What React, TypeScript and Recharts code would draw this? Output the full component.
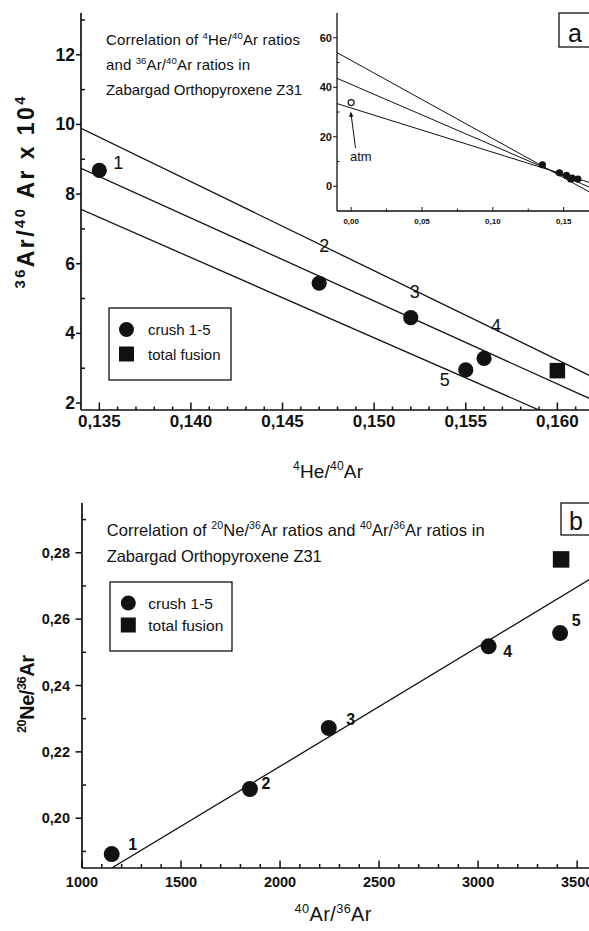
import React from 'react';
import { ComposedChart, Scatter, XAxis, YAxis, CartesianGrid } from 'recharts';

const FONT = '"Liberation Sans", Arial, Helvetica, sans-serif';
const INK = '#111';

// ---------------- Panel a : 36Ar/40Ar (x10^4) vs 4He/40Ar ----------------
const pointLabels = ['1', '2', '3', '4', '5'];
const aCrushX = [0.135, 0.147, 0.152, 0.156, 0.155];
const aCrushY = [8.68, 5.44, 4.45, 3.28, 2.95];
const aFusionX = [0.16];
const aFusionY = [2.93];
const aFitX = [0.134, 0.162];
const aFit1Y = [9.89, 2.73];
const aFit2Y = [8.74, 2.07];
const aFit3X = [0.134, 0.159];
const aFit3Y = [7.56, 1.8];
const aXDomain = [0.134, 0.162];
const aYDomain = [1.8, 13.2];
const aXMajor = [0.135, 0.14, 0.145, 0.15, 0.155, 0.16];
const aXMajorLabels = ['0,135', '0,140', '0,145', '0,150', '0,155', '0,160'];
const aXMinor = [0.136, 0.137, 0.138, 0.139, 0.141, 0.142, 0.143, 0.144, 0.146, 0.147, 0.148, 0.149, 0.151, 0.152, 0.153, 0.154, 0.156, 0.157, 0.158, 0.159, 0.161];
const aYMajor = [2, 4, 6, 8, 10, 12];
const aYMajorLabels = ['2', '4', '6', '8', '10', '12'];
const aYMinor = [3, 5, 7, 9, 11, 13];

// ---------------- Inset of panel a ----------------
const insetAtmX = [0];
const insetAtmY = [33.8];
const insetFitX = [-0.01, 0.17];
const insetFit1Y = [54.0, -2.9];
const insetFit2Y = [43.6, -0.8];
const insetFit3Y = [33.4, 1.2];
const insetXDomain = [-0.01, 0.17];
const insetYDomain = [-10, 70];
const insetXMajor = [0, 0.05, 0.1, 0.15];
const insetXMajorLabels = ['0,00', '0,05', '0,10', '0,15'];
const insetXMinor = [0.025, 0.075, 0.125];
const insetYMajor = [0, 20, 40, 60];
const insetYMajorLabels = ['0', '20', '40', '60'];
const insetYMinor = [10, 30, 50];

// ---------------- Panel b : 20Ne/36Ar vs 40Ar/36Ar ----------------
const bCrushX = [1150, 1848, 2246, 3053, 3414];
const bCrushY = [0.1892, 0.2088, 0.2272, 0.2518, 0.2558];
const bFusionX = [3419];
const bFusionY = [0.278];
const bFitX = [1150, 3570];
const bFitY = [0.185, 0.2722];
const bXDomain = [1000, 3570];
const bYDomain = [0.185, 0.295];
const bXMajor = [1000, 1500, 2000, 2500, 3000, 3500];
const bXMajorLabels = ['1000', '1500', '2000', '2500', '3000', '3500'];
const bXMinor = [1100, 1200, 1300, 1400, 1600, 1700, 1800, 1900, 2100, 2200, 2300, 2400, 2600, 2700, 2800, 2900, 3100, 3200, 3300, 3400];
const bYMajor = [0.2, 0.22, 0.24, 0.26, 0.28];
const bYMajorLabels = ['0,20', '0,22', '0,24', '0,26', '0,28'];
const bYMinor = [0.19, 0.21, 0.23, 0.25, 0.27, 0.29];

// label placement (pixel offsets of the point numbers from their markers)
const aLabelOffsets: Record<string, [number, number]> = { '1': [19, -7], '2': [5, -37], '3': [4, -26], '4': [12, -32], '5': [-21, 10] };
const bLabelOffsets: Record<string, [number, number]> = { '1': [21, -10], '2': [16, -6], '3': [22, -8], '4': [19, 5], '5': [16, -13] };

const zip = (xs: number[], ys: number[], labels?: string[]) =>
  xs.map((x, i) => ({ x, y: ys[i], label: labels ? labels[i] : '' }));

const aCrush = zip(aCrushX, aCrushY, pointLabels);
const aFusion = zip(aFusionX, aFusionY);
const aFit1 = zip(aFitX, aFit1Y);
const aFit2 = zip(aFitX, aFit2Y);
const aFit3 = zip(aFit3X, aFit3Y);
const insetPts = zip([...aCrushX, ...aFusionX], [...aCrushY, ...aFusionY]);
const insetAtm = zip(insetAtmX, insetAtmY);
const insetFit1 = zip(insetFitX, insetFit1Y);
const insetFit2 = zip(insetFitX, insetFit2Y);
const insetFit3 = zip(insetFitX, insetFit3Y);
const bCrush = zip(bCrushX, bCrushY, pointLabels);
const bFusion = zip(bFusionX, bFusionY);
const bFit = zip(bFitX, bFitY);

const sorted = (a: number[], b: number[]) => [...a, ...b].sort((p, q) => p - q);

interface TickSpec {
  side: 'bottom' | 'top' | 'left' | 'right';
  majors: number[];
  labels?: string[];
  majorLen: number;
  minorLen: number;
  majorOut: boolean;
  minorOut: boolean;
  fontSize?: number;
  gap?: number;
  weight?: string;
  sw?: number;
}

const near = (a: number, b: number) => Math.abs(a - b) < 1e-7 * Math.max(1, Math.abs(b));

function makeTick(s: TickSpec) {
  return (props: any) => {
    const { x, y, payload } = props;
    const v = payload.value;
    const mi = s.majors.findIndex((m) => near(m, v));
    const major = mi >= 0;
    const len = major ? s.majorLen : s.minorLen;
    const out = major ? s.majorOut : s.minorOut;
    let x2 = x;
    let y2 = y;
    if (s.side === 'bottom') y2 = y + (out ? len : -len);
    if (s.side === 'top') y2 = y + (out ? -len : len);
    if (s.side === 'left') x2 = x + (out ? -len : len);
    if (s.side === 'right') x2 = x + (out ? len : -len);
    const label = major && s.labels ? s.labels[mi] : null;
    const gap = s.gap || 0;
    return (
      <g>
        <line x1={x} y1={y} x2={x2} y2={y2} stroke={INK} strokeWidth={s.sw || 1.5} />
        {label && s.side === 'bottom' && (
          <text x={x} y={y + gap} textAnchor="middle" fontFamily={FONT} fontSize={s.fontSize} fontWeight={s.weight} fill={INK}>
            {label}
          </text>
        )}
        {label && s.side === 'left' && (
          <text x={x - gap} y={y} textAnchor="end" dominantBaseline="central" fontFamily={FONT} fontSize={s.fontSize} fontWeight={s.weight} fill={INK}>
            {label}
          </text>
        )}
      </g>
    );
  };
}

const noShape = () => <g />;

function makeDot(r: number, offsets: Record<string, [number, number]>, fs: number, fw: string) {
  return (p: any) => {
    const { cx, cy, payload } = p;
    const off = offsets[payload.label];
    return (
      <g>
        <circle cx={cx} cy={cy} r={r} fill={INK} />
        {off && (
          <text x={cx + off[0]} y={cy + off[1]} textAnchor="middle" dominantBaseline="central" fontFamily={FONT} fontSize={fs} fontWeight={fw} fill={INK}>
            {payload.label}
          </text>
        )}
      </g>
    );
  };
}

function makeSquare(side: number) {
  return (p: any) => <rect x={p.cx - side / 2} y={p.cy - side / 2} width={side} height={side} fill={INK} />;
}

const smallDot = (p: any) => <circle cx={p.cx} cy={p.cy} r={3.6} fill={INK} />;
const openDot = (p: any) => <circle cx={p.cx} cy={p.cy} r={3} fill="#fff" stroke={INK} strokeWidth={1.2} />;

const fitLine = { stroke: INK, strokeWidth: 1.3 };
const frame = { stroke: INK, strokeWidth: 1.7 };

type Seg = [string, boolean];
function Rich(props: { segs: Seg[]; x: number; y: number; fs: number; anchor?: 'start' | 'middle' | 'end'; len?: number; rotate?: boolean; weight?: string }) {
  const { segs, x, y, fs, anchor = 'start', len, rotate, weight } = props;
  const supFs = fs * 0.64;
  const rise = fs * 0.4;
  let raised = false;
  const kids = segs.map(([t, s], i) => {
    let dy = 0;
    if (s && !raised) {
      dy = -rise;
      raised = true;
    } else if (!s && raised) {
      dy = rise;
      raised = false;
    }
    return (
      <tspan key={i} dy={dy || undefined} fontSize={s ? supFs : fs}>
        {t}
      </tspan>
    );
  });
  return (
    <text
      x={x}
      y={y}
      fontFamily={FONT}
      fontSize={fs}
      fontWeight={weight}
      fill={INK}
      textAnchor={anchor}
      textLength={len}
      lengthAdjust={len ? 'spacing' : undefined}
      transform={rotate ? `rotate(-90 ${x} ${y})` : undefined}
      style={{ whiteSpace: 'pre' }}
    >
      {kids}
    </text>
  );
}

function Legend(props: { x: number; y: number; w: number; h: number; r1y: number; r2y: number; mx: number; tx: number; fs: number; sq: number; r: number }) {
  const { x, y, w, h, r1y, r2y, mx, tx, fs, sq, r } = props;
  return (
    <g>
      <rect x={x} y={y} width={w} height={h} fill="#fff" stroke={INK} strokeWidth={1.3} />
      <circle cx={mx} cy={r1y} r={r} fill={INK} />
      <text x={tx} y={r1y} dominantBaseline="central" fontFamily={FONT} fontSize={fs} fill={INK}>crush 1-5</text>
      <rect x={mx - sq / 2} y={r2y - sq / 2} width={sq} height={sq} fill={INK} />
      <text x={tx} y={r2y} dominantBaseline="central" fontFamily={FONT} fontSize={fs} fill={INK}>total fusion</text>
    </g>
  );
}

export default function App() {
  return (
    <div style={{ position: 'fixed', left: 0, top: 0, width: 589, height: 931, overflow: 'hidden', background: '#fff' }}>
      {/* Panel a */}
      <div style={{ position: 'absolute', left: 0, top: 0 }}>
        <ComposedChart width={600} height={440} margin={{ top: 13, right: 6, bottom: 0, left: 0 }}>
          <XAxis
            dataKey="x"
            type="number"
            domain={aXDomain}
            ticks={sorted(aXMajor, aXMinor)}
            interval={0}
            height={30}
            tickSize={0}
            tickMargin={0}
            tickLine={false}
            axisLine={frame}
            allowDataOverflow
            tick={makeTick({ side: 'bottom', majors: aXMajor, labels: aXMajorLabels, majorLen: 7.5, minorLen: 3.5, majorOut: false, minorOut: false, fontSize: 17, gap: 17, weight: 'bold' })}
          />
          <XAxis
            xAxisId="top"
            orientation="top"
            type="number"
            domain={aXDomain}
            ticks={sorted(aXMajor, aXMinor)}
            interval={0}
            height={0}
            tickSize={0}
            tickMargin={0}
            tickLine={false}
            axisLine={frame}
            allowDataOverflow
            tick={makeTick({ side: 'top', majors: aXMajor, majorLen: 5, minorLen: 3, majorOut: false, minorOut: false })}
          />
          <YAxis
            dataKey="y"
            type="number"
            domain={aYDomain}
            ticks={sorted(aYMajor, aYMinor)}
            interval={0}
            width={81}
            tickSize={0}
            tickMargin={0}
            tickLine={false}
            axisLine={frame}
            allowDataOverflow
            tick={makeTick({ side: 'left', majors: aYMajor, labels: aYMajorLabels, majorLen: 5, minorLen: 4, majorOut: true, minorOut: false, fontSize: 17.5, gap: 6, weight: 'bold' })}
          />
          <YAxis
            yAxisId="right"
            orientation="right"
            type="number"
            domain={aYDomain}
            ticks={sorted(aYMajor, aYMinor)}
            interval={0}
            width={0}
            tickSize={0}
            tickMargin={0}
            tickLine={false}
            axisLine={frame}
            allowDataOverflow
            tick={makeTick({ side: 'right', majors: aYMajor, majorLen: 5, minorLen: 3, majorOut: false, minorOut: false })}
          />
          <Scatter data={aFit1} line={fitLine} shape={noShape} isAnimationActive={false} />
          <Scatter data={aFit2} line={fitLine} shape={noShape} isAnimationActive={false} />
          <Scatter data={aFit3} line={fitLine} shape={noShape} isAnimationActive={false} />
          <Scatter data={aCrush} shape={makeDot(7.6, aLabelOffsets, 18, 'normal')} isAnimationActive={false} />
          <Scatter data={aFusion} shape={makeSquare(15.5)} isAnimationActive={false} />
        </ComposedChart>
      </div>

      {/* Inset of panel a */}
      <div style={{ position: 'absolute', left: 299, top: 0 }}>
        <ComposedChart width={300} height={240} margin={{ top: 13, right: 7, bottom: 0, left: 0 }}>
          <CartesianGrid fill="#fff" horizontal={false} vertical={false} />
          <XAxis
            dataKey="x"
            type="number"
            domain={insetXDomain}
            ticks={sorted(insetXMajor, insetXMinor)}
            interval={0}
            height={29}
            tickSize={0}
            tickMargin={0}
            tickLine={false}
            axisLine={{ stroke: INK, strokeWidth: 1.3 }}
            allowDataOverflow
            tick={makeTick({ side: 'bottom', majors: insetXMajor, labels: insetXMajorLabels, majorLen: 4, minorLen: 2.5, majorOut: false, minorOut: false, fontSize: 8, gap: 13, weight: 'bold', sw: 1 })}
          />
          <YAxis
            dataKey="y"
            type="number"
            domain={insetYDomain}
            ticks={sorted(insetYMajor, insetYMinor)}
            interval={0}
            width={38}
            tickSize={0}
            tickMargin={0}
            tickLine={false}
            axisLine={{ stroke: INK, strokeWidth: 1.3 }}
            allowDataOverflow
            tick={makeTick({ side: 'left', majors: insetYMajor, labels: insetYMajorLabels, majorLen: 4, minorLen: 2.5, majorOut: true, minorOut: false, fontSize: 11, gap: 5, weight: 'bold', sw: 1 })}
          />
          <Scatter data={insetFit1} line={{ stroke: INK, strokeWidth: 1 }} shape={noShape} isAnimationActive={false} />
          <Scatter data={insetFit2} line={{ stroke: INK, strokeWidth: 1 }} shape={noShape} isAnimationActive={false} />
          <Scatter data={insetFit3} line={{ stroke: INK, strokeWidth: 1 }} shape={noShape} isAnimationActive={false} />
          <Scatter data={insetPts} shape={smallDot} isAnimationActive={false} />
          <Scatter data={insetAtm} shape={openDot} isAnimationActive={false} />
        </ComposedChart>
      </div>

      {/* Panel b */}
      <div style={{ position: 'absolute', left: 0, top: 490 }}>
        <ComposedChart width={600} height={420} margin={{ top: 13, right: 9, bottom: 20, left: 0 }}>
          <XAxis
            dataKey="x"
            type="number"
            domain={bXDomain}
            ticks={sorted(bXMajor, bXMinor)}
            interval={0}
            height={22}
            tickSize={0}
            tickMargin={0}
            tickLine={false}
            axisLine={frame}
            allowDataOverflow
            tick={makeTick({ side: 'bottom', majors: bXMajor, labels: bXMajorLabels, majorLen: 7.5, minorLen: 4, majorOut: false, minorOut: false, fontSize: 14.5, gap: 19, weight: 'bold' })}
          />
          <XAxis
            xAxisId="top"
            orientation="top"
            type="number"
            domain={bXDomain}
            ticks={sorted(bXMajor, bXMinor)}
            interval={0}
            height={0}
            tickSize={0}
            tickMargin={0}
            tickLine={false}
            axisLine={frame}
            allowDataOverflow
            tick={makeTick({ side: 'top', majors: bXMajor, majorLen: 6, minorLen: 3.5, majorOut: false, minorOut: false })}
          />
          <YAxis
            dataKey="y"
            type="number"
            domain={bYDomain}
            ticks={sorted(bYMajor, bYMinor)}
            interval={0}
            width={82}
            tickSize={0}
            tickMargin={0}
            tickLine={false}
            axisLine={frame}
            allowDataOverflow
            tick={makeTick({ side: 'left', majors: bYMajor, labels: bYMajorLabels, majorLen: 6.5, minorLen: 4, majorOut: true, minorOut: false, fontSize: 14.5, gap: 12, weight: 'bold' })}
          />
          <YAxis
            yAxisId="right"
            orientation="right"
            type="number"
            domain={bYDomain}
            ticks={sorted(bYMajor, bYMinor)}
            interval={0}
            width={0}
            tickSize={0}
            tickMargin={0}
            tickLine={false}
            axisLine={frame}
            allowDataOverflow
            tick={makeTick({ side: 'right', majors: bYMajor, majorLen: 5, minorLen: 3, majorOut: false, minorOut: false })}
          />
          <Scatter data={bFit} line={fitLine} shape={noShape} isAnimationActive={false} />
          <Scatter data={bCrush} shape={makeDot(8, bLabelOffsets, 16, 'bold')} isAnimationActive={false} />
          <Scatter data={bFusion} shape={makeSquare(16.5)} isAnimationActive={false} />
        </ComposedChart>
      </div>

      {/* Annotations */}
      <svg width={589} height={931} style={{ position: 'absolute', left: 0, top: 0, pointerEvents: 'none' }}>
        {/* panel a texts */}
        <Rich x={106} y={45} fs={15} len={194} segs={[['Correlation of ', false], ['4', true], ['He/', false], ['40', true], ['Ar ratios', false]]} />
        <Rich x={106} y={70} fs={15} len={144} segs={[['and ', false], ['36', true], ['Ar/', false], ['40', true], ['Ar ratios in', false]]} />
        <Rich x={106} y={95} fs={15} len={196} segs={[['Zabargad Orthopyroxene Z31', false]]} />
        <rect x={559} y={13} width={50} height={34} fill="#fff" stroke={INK} strokeWidth={1.3} />
        <text x={575} y={33} textAnchor="middle" dominantBaseline="central" fontFamily={FONT} fontSize={25} fill={INK}>a</text>
        <text x={350} y={161} fontFamily={FONT} fontSize={13} fill={INK}>atm</text>
        <line x1={355.5} y1={148} x2={351.2} y2={115} stroke={INK} strokeWidth={1} />
        <polygon points="350.8,111.5 349,117 353.4,116.5" fill={INK} />
        <Legend x={109} y={308} w={122} h={72} r1y={329.5} r2y={354} mx={126.5} tx={148} fs={15} sq={15} r={7.5} />
        <Rich x={328} y={478} fs={19} anchor="middle" len={70} segs={[['4', true], ['He/', false], ['40', true], ['Ar', false]]} />
        <Rich x={34} y={192.5} fs={23} anchor="middle" len={192} rotate weight="bold" segs={[['36', true], ['Ar/', false], ['40', true], [' Ar x 10', false], ['4', true]]} />

        {/* panel b texts */}
        <Rich x={106.7} y={536} fs={16.5} len={378} segs={[['Correlation of ', false], ['20', true], ['Ne/', false], ['36', true], ['Ar ratios and ', false], ['40', true], ['Ar/', false], ['36', true], ['Ar ratios in', false]]} />
        <Rich x={106.7} y={562} fs={16.5} len={215} segs={[['Zabargad Orthopyroxene Z31', false]]} />
        <rect x={561} y={503} width={50} height={32} fill="#fff" stroke={INK} strokeWidth={1.3} />
        <text x={576} y={521} textAnchor="middle" dominantBaseline="central" fontFamily={FONT} fontSize={25} fill={INK}>b</text>
        <Legend x={110} y={582} w={122} h={69} r1y={603} r2y={625} mx={128.3} tx={148.3} fs={15.5} sq={15} r={7.5} />
        <Rich x={333} y={921} fs={20} anchor="middle" len={77} segs={[['40', true], ['Ar/', false], ['36', true], ['Ar', false]]} />
        <Rich x={34} y={694} fs={20} anchor="middle" len={78} rotate weight="bold" segs={[['20', true], ['Ne/', false], ['36', true], ['Ar', false]]} />
      </svg>
    </div>
  );
}
